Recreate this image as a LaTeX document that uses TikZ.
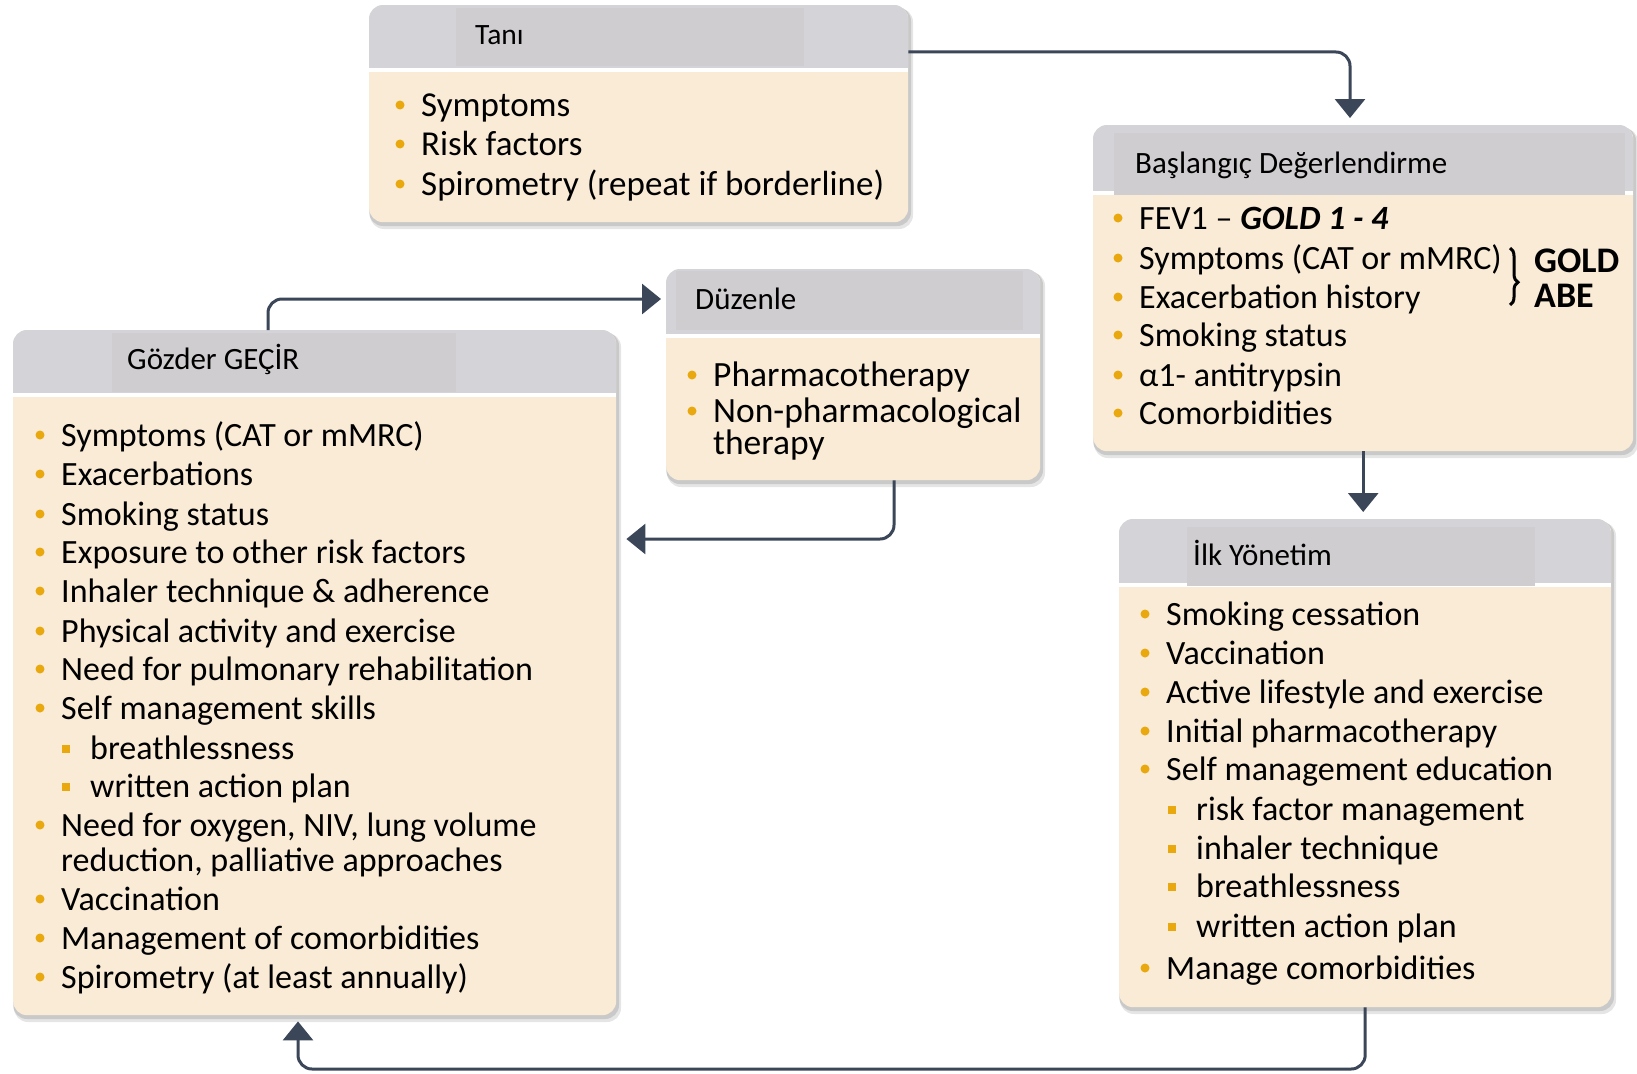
\documentclass[tikz,border=0pt]{standalone}
\usepackage{fontspec}
\setmainfont{Carlito}
\usetikzlibrary{arrows.meta,calc,decorations.pathreplacing}
\definecolor{hdr}{HTML}{D4D3D8}
\definecolor{hdrin}{HTML}{CFCDCF}
\definecolor{bodyc}{HTML}{F9EBD6}
\definecolor{bul}{HTML}{E9A80E}
\definecolor{arrc}{HTML}{3B4659}
\tikzset{
 boxbg/.style={draw=none, fill=bodyc, rounded corners=14pt, inner sep=0pt, anchor=north west},
 conn/.style={draw=arrc, line width=3pt, rounded corners=14pt, -{Triangle[width=30pt,length=19pt]}},
 ttl/.style={anchor=base west, inner sep=0pt, font=\fontsize{31}{34}\selectfont},
 ttlS/.style={ttl, font=\fontsize{29.5}{34}\selectfont},
 txt/.style={anchor=base west, inner sep=0pt, font=\fontsize{34}{38}\selectfont},
 txtL/.style={txt, font=\fontsize{35}{38}\selectfont},
 txtXL/.style={txt, font=\fontsize{35.5}{38}\selectfont},
 bld/.style={anchor=base west, inner sep=0pt, font=\fontsize{36}{38}\selectfont\bfseries},
}
\newcommand\panel[6]{%
 \fill[black, opacity=0.10, rounded corners=14pt] (#2+1,#3+3) rectangle (#2+#4+5,#3+#5+7);
 \fill[black, opacity=0.12, rounded corners=14pt] (#2,#3+2) rectangle (#2+#4+3,#3+#5+4);
 \node[boxbg, minimum width=#4pt, minimum height=#5pt] (#1) at (#2,#3) {};
 \begin{scope}
 \clip[rounded corners=14pt] (#2,#3) rectangle ++(#4,#5);
 \fill[hdr] (#2,#3) rectangle (#2+#4,#6);
 \end{scope}
 \fill[white] (#2,#6) rectangle (#2+#4,#6+4);
}
\newcommand\bl[5][txt]{\fill[bul] (#3,#4) circle (4.5pt); \node[#1] (#2) at (#3+21,#4+11) {#5};}
\newcommand\sbl[4]{\fill[bul] (#2-4,#3-3) rectangle (#2+4,#3+5); \node[txt] (#1) at (#2+24,#3+11) {#4};}
\begin{document}
\begin{tikzpicture}[x=1pt,y=-1pt]
\useasboundingbox (0,0) rectangle (1637,1073);
\fill[white] (0,0) rectangle (1637,1073);

% Tani
\panel{tani}{369}{5}{539}{217}{68}
\fill[hdrin] (456,8) rectangle (804,66);
\node[ttlS] (taniT) at (475,45) {Tanı};
\bl[txtL]{ta1}{400}{105}{Symptoms}
\bl[txtL]{ta2}{400}{144}{Risk factors}
\bl[txtL]{ta3}{400}{184}{Spirometry (repeat if borderline)}

% Baslangic
\panel{basl}{1093}{125}{540}{326}{191}
\fill[hdrin] (1114,133) rectangle (1625,195);
\node[ttl] (baslT) at (1135,173) {Başlangıç Değerlendirme};
\bl{ba1}{1118}{218}{FEV1 -- \textbf{\itshape GOLD 1 - 4}}
\bl{ba2}{1118}{258}{Symptoms (CAT or mMRC)}
\bl{ba3}{1118}{297}{Exacerbation history}
\bl{ba4}{1118}{335}{Smoking status}
\bl{ba5}{1118}{375}{α1- antitrypsin}
\bl{ba6}{1118}{413}{Comorbidities}
\draw[line width=3pt, decorate, decoration={brace, amplitude=8pt, aspect=0.6}] (1510,248) -- (1510,305);
\node[bld] (gold) at (1534,272) {GOLD};
\node[bld] (abe) at (1534,307) {ABE};

% Duzenle
\panel{duz}{666}{269}{374}{211}{334}
\fill[hdrin] (676,271) rectangle (1023,330);
\node[ttl] (duzT) at (695,309) {Düzenle};
\bl[txtXL]{du1}{692}{375}{Pharmacotherapy}
\bl[txtXL]{du2}{692}{411}{Non-pharmacological}
\node[txtXL] (du3) at (713,454) {therapy};

% Gozden
\panel{goz}{13}{330}{603}{685}{393}
\fill[hdrin] (112,333) rectangle (456,392);
\node[ttl] (gozT) at (127,369) {Gözder GEÇİR};
\bl{go1}{40}{435}{Symptoms (CAT or mMRC)}
\bl{go2}{40}{474}{Exacerbations}
\bl{go3}{40}{514}{Smoking status}
\bl{go4}{40}{552}{Exposure to other risk factors}
\bl{go5}{40}{591}{Inhaler technique \& adherence}
\bl{go6}{40}{631}{Physical activity and exercise}
\bl{go7}{40}{669}{Need for pulmonary rehabilitation}
\bl{go8}{40}{708}{Self management skills}
\sbl{go9}{66}{748}{breathlessness}
\sbl{go10}{66}{786}{written action plan}
\bl{go11}{40}{825}{Need for oxygen, NIV, lung volume}
\node[txt] (go12) at (61,871) {reduction, palliative approaches};
\bl{go13}{40}{899}{Vaccination}
\bl{go14}{40}{938}{Management of comorbidities}
\bl{go15}{40}{977}{Spirometry (at least annually)}

% Ilk Yonetim
\panel{ilk}{1119}{519}{492}{488}{583}
\fill[hdrin] (1187,527) rectangle (1535,586);
\node[ttl] (ilkT) at (1193,565) {İlk Yönetim};
\bl{il1}{1145}{614}{Smoking cessation}
\bl{il2}{1145}{653}{Vaccination}
\bl{il3}{1145}{692}{Active lifestyle and exercise}
\bl{il4}{1145}{731}{Initial pharmacotherapy}
\bl{il5}{1145}{769}{Self management education}
\sbl{il6}{1172}{809}{risk factor management}
\sbl{il7}{1172}{848}{inhaler technique}
\sbl{il8}{1172}{886}{breathlessness}
\sbl{il9}{1172}{926}{written action plan}
\bl{il10}{1145}{968}{Manage comorbidities}

% connectors
\draw[conn] ($(tani.north east)+(0,47)$) -| ($(basl.north west)+(257,-7)$);
\draw[conn] (basl.south) -- ($(basl.south |- ilk.north)+(0,-7)$);
\coordinate (bend3) at (298,1069);
\draw[conn] (ilk.south) |- (bend3) -- ($(goz.south west)+(285,6)$);
\draw[conn] ($(goz.north west)+(255,0)$) |- ($(duz.north west)+(-5,30)$);
\draw[conn] ($(duz.south west)+(228,0)$) |- ($(goz.north east)+(10,209)$);
\end{tikzpicture}
\end{document}
